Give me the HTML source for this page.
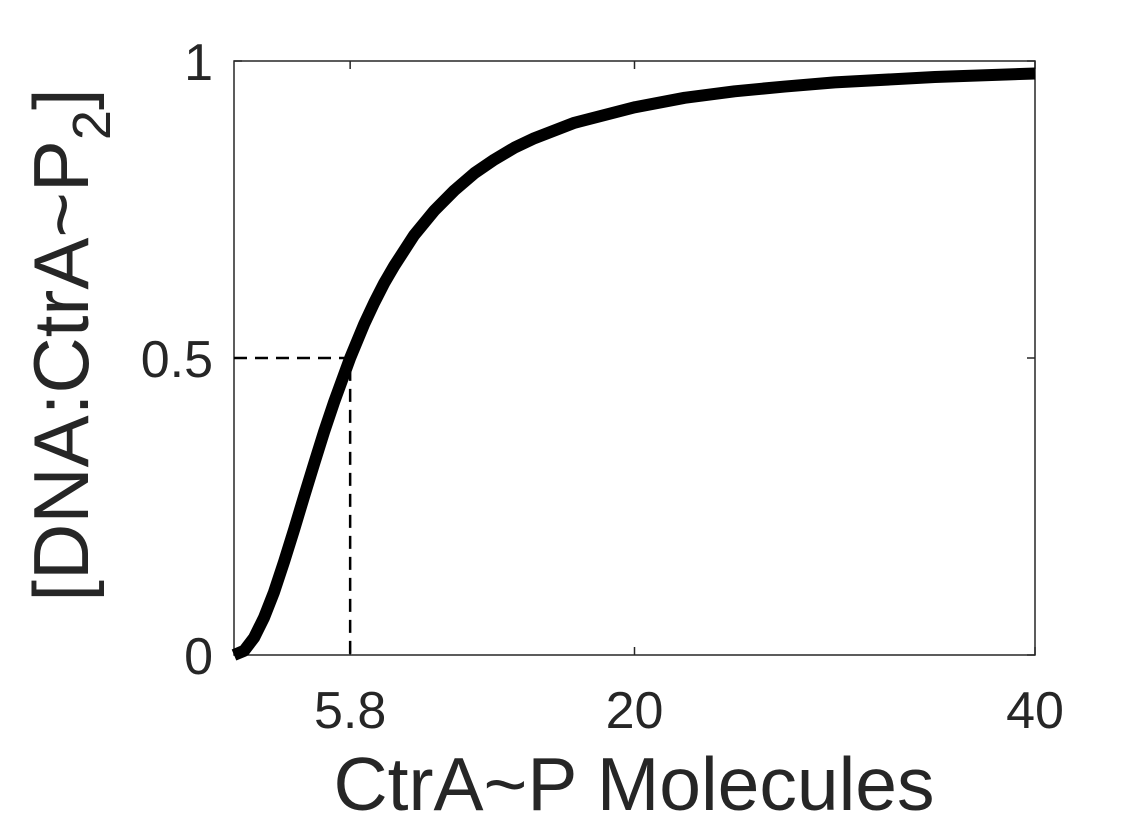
<!DOCTYPE html>
<html><head><meta charset="utf-8"><style>
html,body{margin:0;padding:0;background:#fff;}
svg{display:block;font-family:"Liberation Sans",sans-serif;}
</style></head><body>
<svg id="chart" width="1145" height="828"></svg>
<script>
const xValues=[0,0.5,1,1.5,2,2.5,3,3.5,4,4.5,5,5.8,6.5,7,7.5,8,9,10,11,12,13,14,15,17,20,22.5,25,27.5,30,35,40];
const yValues=[0,0.007,0.029,0.063,0.106,0.157,0.211,0.267,0.322,0.376,0.426,0.5,0.557,0.593,0.626,0.655,0.707,0.748,0.782,0.811,0.834,0.854,0.870,0.896,0.922,0.938,0.949,0.957,0.964,0.973,0.979];
const xTicks=[5.8,20,40];
const xTickLabels=["5.8","20","40"];
const yTicks=[0,0.5,1];
const yTickLabels=["0","0.5","1"];
const halfX=[5.8];const halfY=[0.5];
const NS="http://www.w3.org/2000/svg";
const svg=document.getElementById('chart');
const L=234,R=1035,T=61,B=655;
const sx=v=>L+(v-0)/(40-0)*(R-L);
const sy=v=>B-(v-0)/(1-0)*(B-T);
function mk(tag,attrs,parent){const e=document.createElementNS(NS,tag);for(const k in attrs)e.setAttribute(k,attrs[k]);(parent||svg).appendChild(e);return e;}
const box=mk('rect',{x:L,y:T,width:R-L,height:B-T,fill:'none',stroke:'#262626','stroke-width':1.5});


xTicks.forEach((t,i)=>{
 const g=mk('g',{});
 
 
 mk('line',{x1:sx(t),x2:sx(t),y1:B,y2:B-8,stroke:'#262626','stroke-width':1.5},g);
 mk('line',{x1:sx(t),x2:sx(t),y1:T,y2:T+8,stroke:'#262626','stroke-width':1.5},g);
 const tx=mk('text',{x:sx(t),y:728,'text-anchor':'middle','font-size':52,fill:'#262626'},g);tx.textContent=xTickLabels[i];
});
yTicks.forEach((t,i)=>{
 const g=mk('g',{});
 
 
 mk('line',{x1:L,x2:L+8,y1:sy(t),y2:sy(t),stroke:'#262626','stroke-width':1.5},g);
 mk('line',{x1:R,x2:R-8,y1:sy(t),y2:sy(t),stroke:'#262626','stroke-width':1.5},g);
 const tx=mk('text',{x:213,y:sy(t)+19,'text-anchor':'end','font-size':52,fill:'#262626'},g);tx.textContent=yTickLabels[i];
});
const dash=mk('path',{d:`M${L},${sy(halfY[0])}H${sx(halfX[0])}V${B}`,fill:'none',stroke:'#000','stroke-width':2.5,'stroke-dasharray':'13,8'});


const line=mk('polyline',{points:xValues.map((x,i)=>sx(x)+','+sy(yValues[i])).join(' '),fill:'none',stroke:'#000','stroke-width':12,'stroke-linejoin':'round'});


const xt=mk('text',{x:634,y:810,'text-anchor':'middle','font-size':75,fill:'#262626'});
xt.textContent='CtrA~P Molecules';


const yt=mk('text',{x:0,y:0,'text-anchor':'middle','font-size':78,fill:'#262626',transform:'translate(88,345) rotate(-90)'});
yt.innerHTML='[DNA:CtrA~P<tspan font-size="54" dy="22">2</tspan><tspan dy="-22">]</tspan>';


</script>
</body></html>
